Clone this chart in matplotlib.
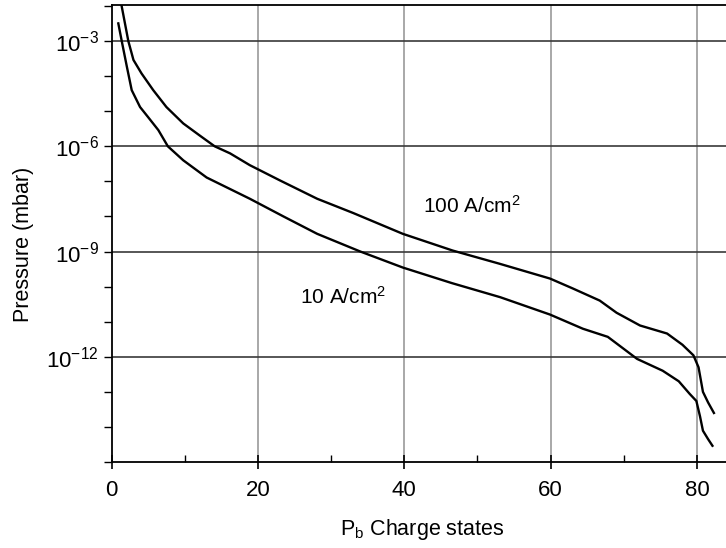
import matplotlib
matplotlib.use("Agg")
import matplotlib.pyplot as plt
from matplotlib.ticker import FixedLocator, NullFormatter

plt.rcParams['font.family'] = ['Liberation Sans', 'DejaVu Sans']
plt.rcParams['mathtext.fontset'] = 'custom'
plt.rcParams['mathtext.rm'] = 'Liberation Sans'
plt.rcParams['mathtext.it'] = 'Liberation Sans:italic'
plt.rcParams['mathtext.bf'] = 'Liberation Sans:bold'

# 100 A/cm^2 curve: charge state vs pressure (mbar)
q_100 = [1.2, 2.3, 3.0, 4.1, 5.7, 7.5, 9.8, 12.1, 14.1, 16.2, 18.9, 23.0, 28.1,
         33.0, 39.8, 46.6, 53.0, 59.9, 63.0, 66.7, 69.0, 72.2, 75.9, 78.0, 79.5,
         80.2, 80.8, 81.5, 82.3]
p_100 = [1.6e-2, 1.0e-3, 2.9e-4, 1.2e-4, 4.0e-5, 1.32e-5, 4.5e-6, 2.0e-6, 1.0e-6,
         6.3e-7, 2.9e-7, 1.07e-7, 3.2e-8, 1.26e-8, 3.2e-9, 1.07e-9, 4.5e-10,
         1.7e-10, 8.9e-11, 4.0e-11, 1.8e-11, 7.8e-12, 4.6e-12, 2.2e-12, 1.1e-12,
         5.0e-13, 1.0e-13, 5.0e-14, 2.5e-14]

# 10 A/cm^2 curve
q_10 = [0.93, 1.4, 2.1, 2.76, 3.9, 5.0, 6.4, 7.7, 9.8, 13.0, 18.9, 23.5, 28.1,
        34.0, 39.8, 46.5, 53.1, 59.9, 64.4, 67.8, 71.8, 75.3, 77.5, 79.0, 79.9,
        80.4, 80.8, 81.5, 82.1]
p_10 = [3.2e-3, 1.0e-3, 1.86e-4, 4.0e-5, 1.32e-5, 6.8e-6, 2.9e-6, 1.0e-6, 4.0e-7,
        1.29e-7, 3.2e-8, 1.0e-8, 3.2e-9, 1.0e-9, 3.5e-10, 1.26e-10, 5.0e-11,
        1.6e-11, 6.3e-12, 3.7e-12, 8.7e-13, 4.0e-13, 2.0e-13, 8.7e-14, 5.5e-14,
        2.0e-14, 7.8e-15, 4.5e-15, 2.9e-15]

x_major = [0, 20, 40, 60, 80]
x_minor = [10, 30, 50, 70]
y_major = [1e-3, 1e-6, 1e-9, 1e-12]
y_major_labels = ['$10^{-3}$', '$10^{-6}$', '$10^{-9}$', '$10^{-12}$']
y_minor = [1e-2, 1e-4, 1e-5, 1e-7, 1e-8, 1e-10, 1e-11, 1e-13, 1e-14, 1e-15]

fig = plt.figure(figsize=(7.26, 5.48), dpi=100)
ax = fig.add_axes([111.5 / 726, 1 - 462 / 548, 1 - 111.5 / 726, (462 - 5) / 548])

ax.set_yscale('log')
ax.set_xlim(0, 83.95)
ax.set_ylim(1e-15, 1.07e-2)

# grid lines
for xv in x_major[1:]:
    ax.axvline(xv, color='#9a9a9a', lw=1.2, zorder=1)
for yv in y_major:
    ax.axhline(yv, color='#3a3a3a', lw=1.2, zorder=1)

ax.plot(q_100, p_100, color='black', lw=1.7, zorder=3)
ax.plot(q_10, p_10, color='black', lw=1.7, zorder=3)

ax.text(42.6, 10 ** -7.7, '100 A/cm$^2$', fontsize=15, va='center', ha='left')
ax.text(25.7, 10 ** -10.3, '10 A/cm$^2$', fontsize=15, va='center', ha='left')

ax.xaxis.set_major_locator(FixedLocator(x_major))
ax.xaxis.set_minor_locator(FixedLocator(x_minor))
ax.yaxis.set_major_locator(FixedLocator(y_major))
ax.set_yticklabels(y_major_labels)
ax.yaxis.set_minor_locator(FixedLocator(y_minor))
ax.yaxis.set_minor_formatter(NullFormatter())

ax.tick_params(axis='x', which='major', direction='inout', length=10, width=1.2,
               labelsize=16, pad=8)
ax.tick_params(axis='x', which='minor', direction='in', length=5, width=1.0)
ax.tick_params(axis='y', which='both', direction='out', length=6, width=1.0,
               labelsize=16, pad=3)

ax.spines['right'].set_visible(False)
for s in ['left', 'bottom', 'top']:
    ax.spines[s].set_linewidth(1.3)
    ax.spines[s].set_color('black')

ax.set_ylabel('Pressure (mbar)', fontsize=15.5)
ax.yaxis.set_label_coords(-0.126, 0.477)
ax.set_xlabel('P$_{\\mathregular{b}}$ Charge states', fontsize=15.5)
ax.xaxis.set_label_coords(0.505, -0.12)

fig.savefig('out.png', dpi=100)
